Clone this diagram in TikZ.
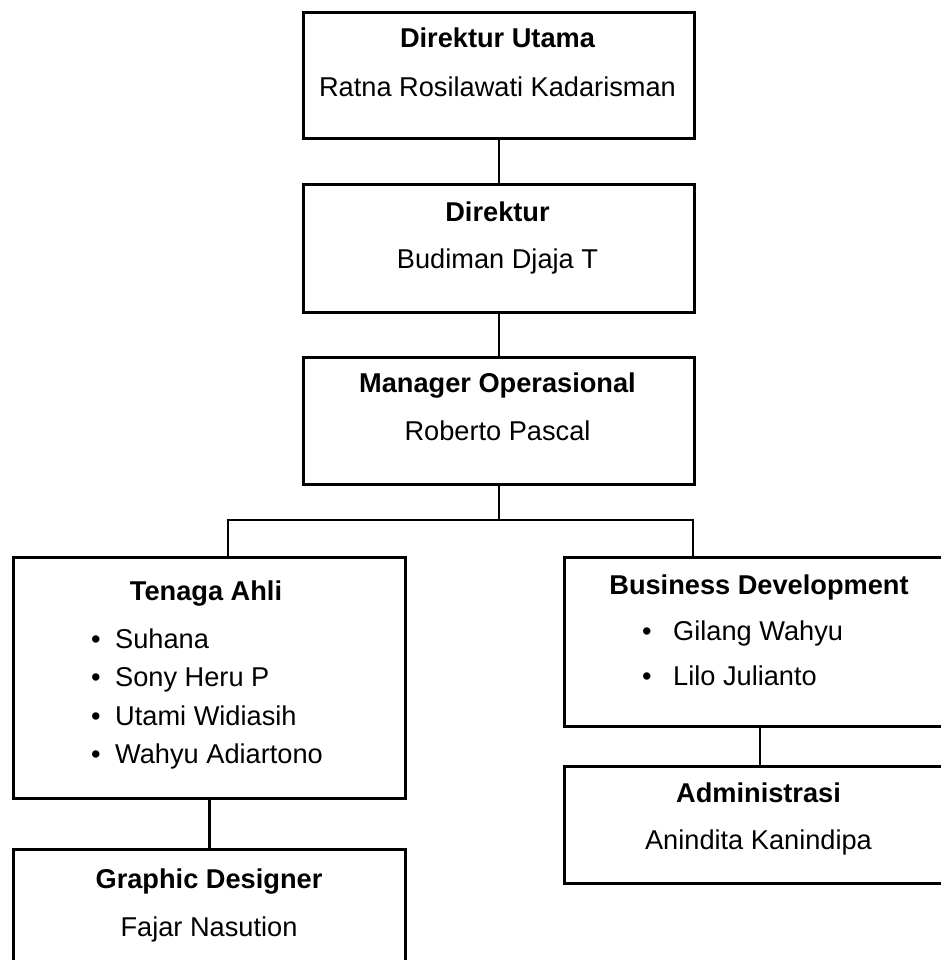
\documentclass[tikz,border=0pt]{standalone}
\usepackage{fontspec}
\setmainfont{Liberation Sans}
\begin{document}
\begin{tikzpicture}[x=1pt,y=-1pt,
  box/.style={draw=black, line width=2.8pt, rectangle, inner sep=0pt, fill=white, anchor=north west},
  ttl/.style={font=\fontsize{27.2}{32}\selectfont\bfseries, anchor=base, inner sep=0pt},
  nm/.style={font=\fontsize{27.2}{32}\selectfont, anchor=base, inner sep=0pt},
  itm/.style={font=\fontsize{27.2}{32}\selectfont, anchor=base west, inner sep=0pt},
  bul/.style={font=\fontsize{27.2}{32}\selectfont, anchor=base, inner sep=0pt},
  link/.style={draw=black, line width=2.6pt}]
\useasboundingbox (0,0) rectangle (941,960);
\clip (0,0) rectangle (941,960);

% boxes
\node[box, minimum width=391pt, minimum height=126pt] (du)  at (302,11)  {};
\node[box, minimum width=391pt, minimum height=128pt] (dir) at (302,183) {};
\node[box, minimum width=391pt, minimum height=127pt] (mo)  at (302,356) {};
\node[box, minimum width=392pt, minimum height=241pt] (ta)  at (12,556)  {};
\node[box, minimum width=391pt, minimum height=169pt] (bd)  at (563,556) {};
\node[box, minimum width=391pt, minimum height=117pt] (adm) at (563,765) {};
\node[box, minimum width=392pt, minimum height=127pt] (gd)  at (12,848)  {};

% connectors
\coordinate (busL) at (228,520);
\coordinate (busR) at (693,520);
\draw[link] (du.south) -- (dir.north);
\draw[link] (dir.south) -- (mo.north);
\draw[link] (mo.south) -- (mo.south |- busL);
\draw[link] (ta.north -| busL) -- (busL) -- (busR) -- (bd.north -| busR);
\draw[link] (ta.south) -- (gd.north);
\draw[link] (bd.south) -- (adm.north);

% texts
\node[ttl] (duT) at (497.5,48) {Direktur Utama};
\node[nm]  (duN) at (497.5,97) {Ratna Rosilawati Kadarisman};
\node[ttl] (dirT) at (497.5,221) {Direktur};
\node[nm]  (dirN) at (497.5,268) {Budiman Djaja T};
\node[ttl] (moT) at (497.5,392) {Manager Operasional};
\node[nm]  (moN) at (497.5,440) {Roberto Pascal};

\node[ttl] (taT) at (206,600) {Tenaga Ahli};
\node[bul] (taB1) at (96,648) {•};
\node[itm] (taI1) at (115,648) {Suhana};
\node[bul] (taB2) at (96,686.5) {•};
\node[itm] (taI2) at (115,686.5) {Sony Heru P};
\node[bul] (taB3) at (96,725) {•};
\node[itm] (taI3) at (115,725) {Utami Widiasih};
\node[bul] (taB4) at (96,763) {•};
\node[itm] (taI4) at (115,763) {Wahyu Adiartono};

\node[ttl] (bdT) at (759,594) {Business Development};
\node[bul] (bdB1) at (647,640) {•};
\node[itm] (bdI1) at (673,640) {Gilang Wahyu};
\node[bul] (bdB2) at (647,685) {•};
\node[itm] (bdI2) at (673,685) {Lilo Julianto};

\node[ttl] (admT) at (758.5,802) {Administrasi};
\node[nm]  (admN) at (758.5,849) {Anindita Kanindipa};

\node[ttl] (gdT) at (209,888) {Graphic Designer};
\node[nm]  (gdN) at (209,936) {Fajar Nasution};
\end{tikzpicture}
\end{document}
